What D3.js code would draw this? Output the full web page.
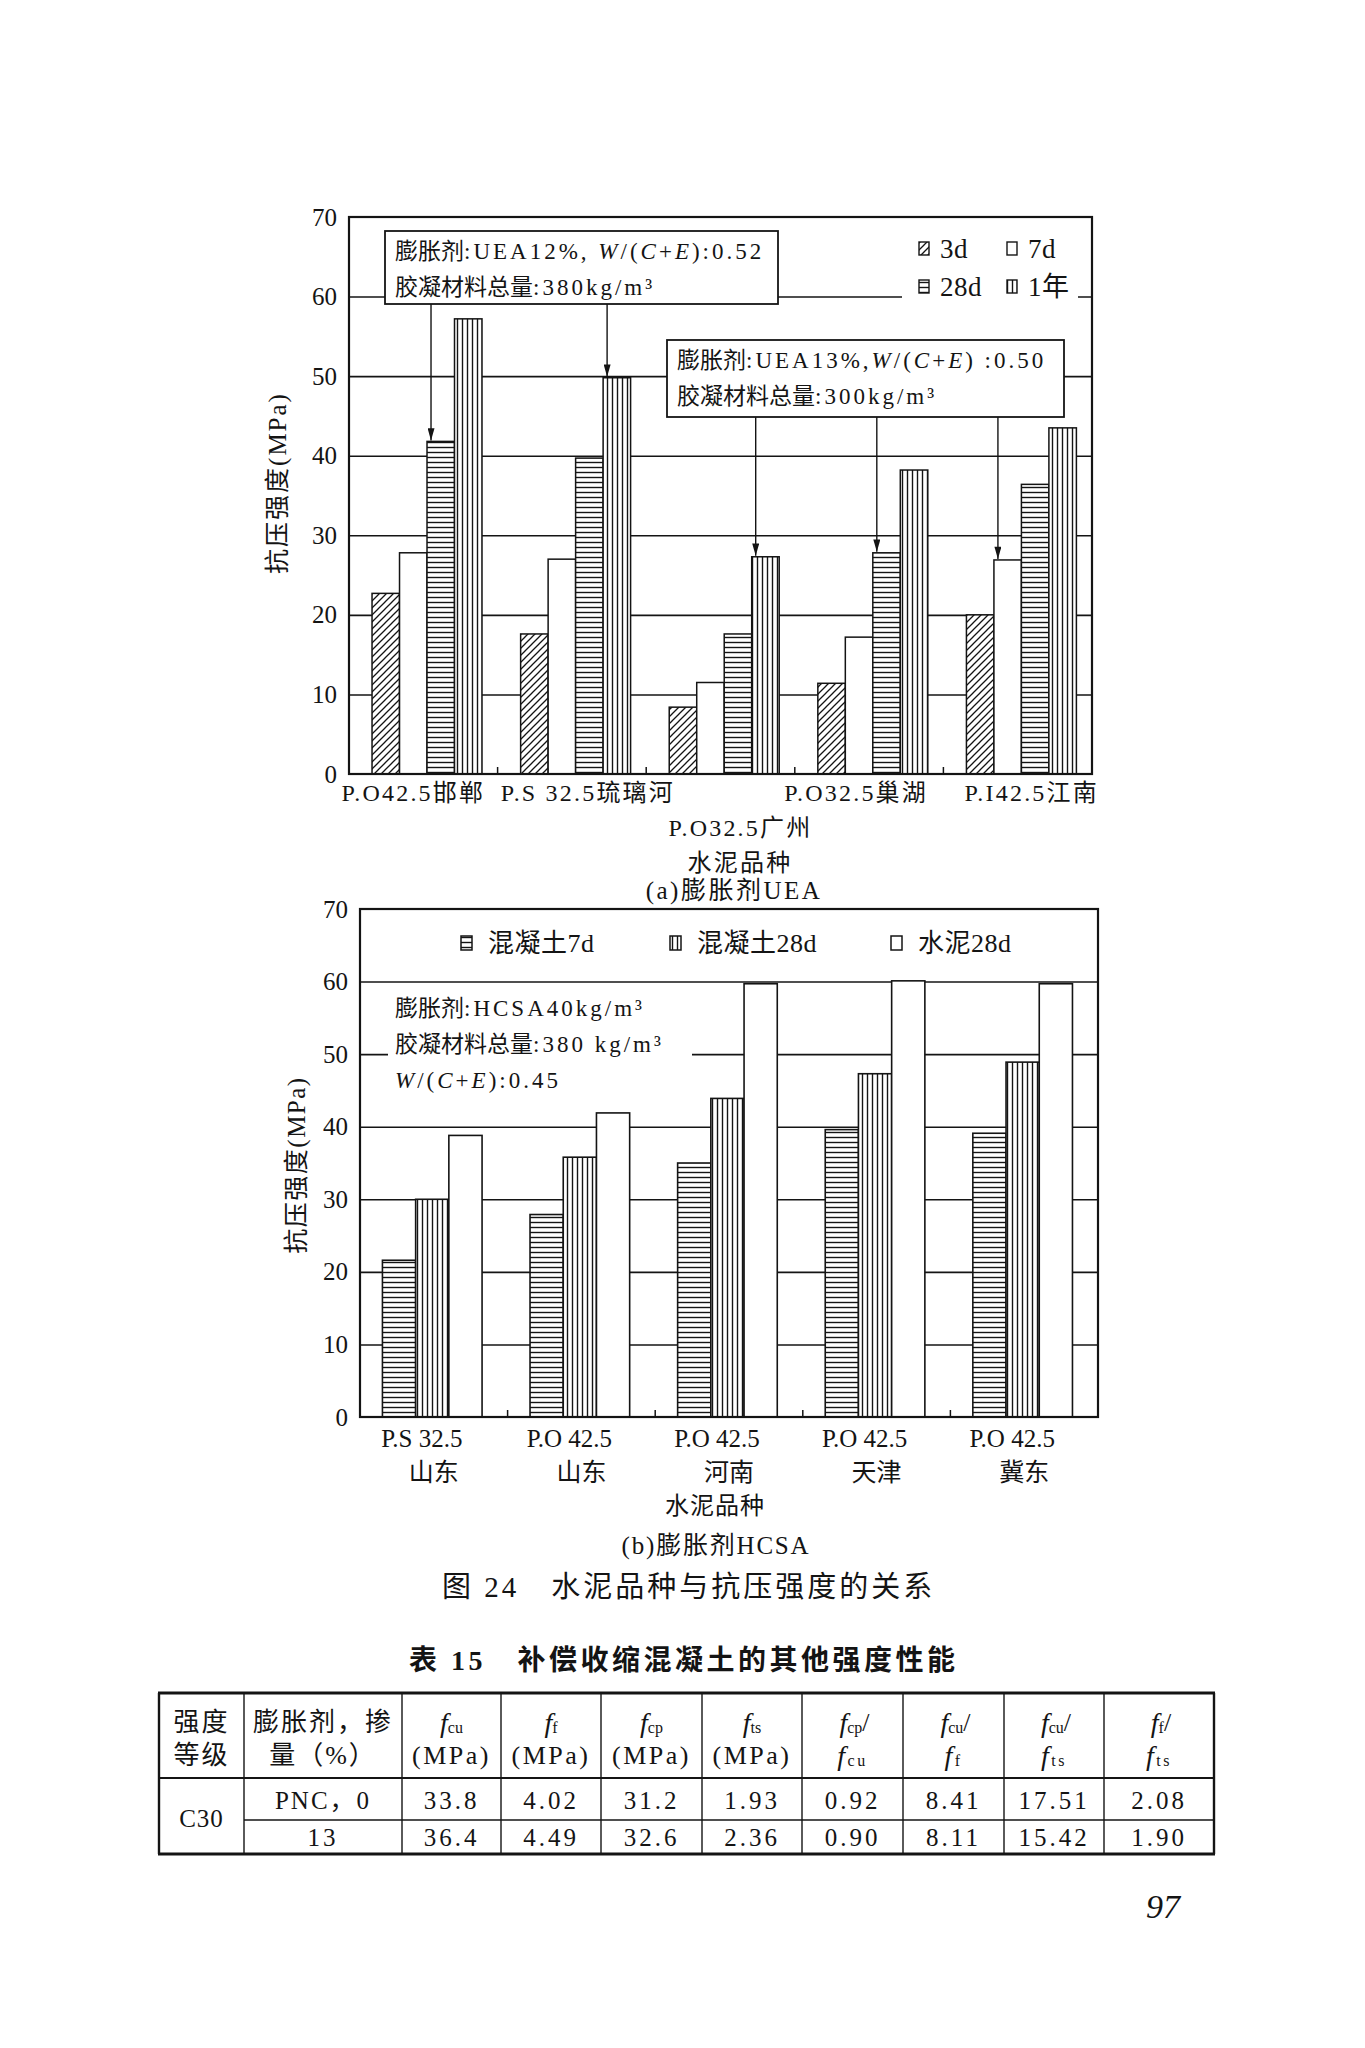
<!DOCTYPE html>
<html><head><meta charset="utf-8">
<script src="https://cdn.jsdelivr.net/npm/d3@7"></script>
<style>body{margin:0;background:#fff}svg{display:block}</style>
</head><body><svg id="c" width="1365" height="2048"></svg>
<script>
// ---------- DATA: chart (a) ----------
const categoriesA = ["P.O42.5邯郸","P.S 32.5琉璃河","P.O32.5广州","P.O32.5巢湖","P.I42.5江南"];
const labelRowA = [0,0,1,0,0];
const seriesA = ["3d","7d","28d","1年"];
const values3d  = [22.7,17.6,8.4,11.4,20.0];
const values7d  = [27.8,27.0,11.5,17.2,26.9];
const values28d = [41.8,39.7,17.6,27.8,36.4];
const values1y  = [57.2,49.8,27.3,38.2,43.5];
const yTicks = [0,10,20,30,40,50,60,70];
const noteA1 = ["膨胀剂:UEA12%, _W_/(_C_+_E_):0.52","胶凝材料总量:380kg/m³"];
const noteA2 = ["膨胀剂:UEA13%,_W_/(_C_+_E_) :0.50","胶凝材料总量:300kg/m³"];
const arrowsA1 = [[0,"28d"],[1,"1年"]];
const arrowsA2 = [[2,"1年"],[3,"28d"],[4,"7d"]];
// ---------- DATA: chart (b) ----------
const categoriesB1 = ["P.S 32.5","P.O 42.5","P.O 42.5","P.O 42.5","P.O 42.5"];
const categoriesB2 = ["山东","山东","河南","天津","冀东"];
const seriesB = ["混凝土7d","混凝土28d","水泥28d"];
const concrete7d  = [21.6,27.9,35.0,39.6,39.1];
const concrete28d = [30.0,35.8,43.9,47.3,48.9];
const cement28d   = [38.8,41.9,59.7,60.1,59.7];
const noteB = ["膨胀剂:HCSA40kg/m³","胶凝材料总量:380 kg/m³","_W_/(_C_+_E_):0.45"];
// ---------- DATA: table ----------
const tableHead1 = ["强度","膨胀剂，掺","f{cu}","f{f}","f{cp}","f{ts}","f{cp}/","f{cu}/","f{cu}/","f{f}/"];
const tableHead2 = ["等级","量（%）","(MPa)","(MPa)","(MPa)","(MPa)","f{cu}","f{f}","f{ts}","f{ts}"];
const tableGrade = "C30";
const tableRow1 = ["PNC，0","33.8","4.02","31.2","1.93","0.92","8.41","17.51","2.08"];
const tableRow2 = ["13","36.4","4.49","32.6","2.36","0.90","8.11","15.42","1.90"];

const seriesValuesA = {"3d":values3d,"7d":values7d,"28d":values28d,"1年":values1y};
const seriesValuesB = {"混凝土7d":concrete7d,"混凝土28d":concrete28d,"水泥28d":cement28d};

// ---------- SETUP ----------
const INK = "#141414";
const FONT = "'Liberation Serif','Noto Sans CJK SC',serif";
const svg = d3.select("#c").style("font-family",FONT);
svg.append("rect").attr("width",1365).attr("height",2048).attr("fill","#fff");
const defs = svg.append("defs");
function pat(id,w,h,d,sw){
  const p = defs.append("pattern").attr("id",id).attr("patternUnits","userSpaceOnUse").attr("width",w).attr("height",h);
  p.append("rect").attr("width",w).attr("height",h).attr("fill","#fff");
  p.append("path").attr("d",d).attr("stroke",INK).attr("stroke-width",sw).attr("fill","none");
}
pat("diag",7,7,"M-1,8 L8,-1 M-1,1 L1,-1 M6,8 L8,6",1.3);
pat("horiz",5,5,"M0,2.5 H5",1.4);
pat("vert",5,5,"M2.5,0 V5",1.4);
defs.append("marker").attr("id","ah").attr("viewBox","0 0 14 8").attr("refX",14).attr("refY",4)
  .attr("markerWidth",14).attr("markerHeight",7).attr("markerUnits","userSpaceOnUse").attr("orient","auto")
  .append("path").attr("d","M0,0 L14,4 L0,8 z").attr("fill",INK);

const CJK_RE = /([\u3000-\u9fff\uff00-\uffef]+)/;
// rich text: _x_ = italic; CJK and Latin runs get their own letter-spacing
function rich(sel,str,latLs=0,cjkLs=0){
  str.split("_").forEach((s,i)=>{
    if(!s) return;
    s.split(CJK_RE).forEach(r=>{
      if(!r) return;
      const isC = CJK_RE.test(r);
      sel.append("tspan").text(r).attr("font-style", i%2 ? "italic" : null)
        .attr("letter-spacing", isC ? cjkLs : latLs);
    });
  });
  return sel;
}
function txt(g,x,y,size,opts={}){
  return g.append("text").attr("x",x).attr("y",y).attr("font-size",size).attr("fill",INK)
    .attr("dominant-baseline","central").attr("text-anchor",opts.anchor||"middle")
    .attr("letter-spacing",opts.ls||0).attr("font-weight",opts.weight||null);
}
function yAxisLabels(g,y,x0,size){
  g.append("g").attr("transform",`translate(${x0},0)`)
    .call(d3.axisLeft(y).tickValues(yTicks).tickSize(0).tickPadding(12))
    .call(s=>s.select(".domain").remove())
    .selectAll("text").attr("font-size",size).attr("fill",INK).attr("font-family",FONT);
}
function grid(g,y,L,R){
  g.append("g").attr("transform",`translate(${L},0)`)
    .call(d3.axisLeft(y).tickValues(yTicks.filter(v=>v>0&&v<70)).tickSize(-(R-L)).tickFormat(""))
    .call(s=>s.select(".domain").remove())
    .selectAll("line").attr("stroke",INK).attr("stroke-width",1.6);
}

// ---------- CHART (a) ----------
const A = {l:349,r:1092,t:217,b:774};
const labelShiftA = [-10,16,20,-13,14];   // layout: horizontal nudges of the tick labels
const xA = d3.scaleBand().domain(d3.range(categoriesA.length)).range([A.l,A.r]);
const xA1 = d3.scaleBand().domain(seriesA).range([xA.bandwidth()*0.155, xA.bandwidth()*0.895]);
const yA = d3.scaleLinear().domain([0,70]).range([A.b,A.t]);
const fillA = {"3d":"url(#diag)","7d":"#fff","28d":"url(#horiz)","1年":"url(#vert)"};
const gA = svg.append("g");
grid(gA,yA,A.l,A.r);
gA.append("rect").attr("x",902).attr("y",227).attr("width",176).attr("height",75).attr("fill","#fff");
seriesA.forEach(s=>{
  gA.append("g").selectAll("rect").data(seriesValuesA[s]).join("rect")
    .attr("x",(d,i)=>xA(i)+xA1(s)).attr("width",xA1.bandwidth())
    .attr("y",d=>yA(d)).attr("height",d=>yA(0)-yA(d))
    .attr("fill",fillA[s]).attr("stroke",INK).attr("stroke-width",1.5);
});
gA.append("rect").attr("x",A.l).attr("y",A.t).attr("width",A.r-A.l).attr("height",A.b-A.t)
  .attr("fill","none").attr("stroke",INK).attr("stroke-width",2.2);
gA.selectAll(".bt").data(d3.range(1,categoriesA.length)).join("line")
  .attr("x1",i=>xA(i)).attr("x2",i=>xA(i)).attr("y1",A.b).attr("y2",A.b-7).attr("stroke",INK).attr("stroke-width",1.5);
yAxisLabels(gA,yA,A.l,25);
function noteBox(g,lines,bx,by,bw,bh,arrows){
  g.append("rect").attr("x",bx).attr("y",by).attr("width",bw).attr("height",bh)
    .attr("fill","#fff").attr("stroke",INK).attr("stroke-width",1.8);
  lines.forEach((ln,i)=>rich(txt(g,bx+10,by+20+i*36,23,{anchor:"start"}),ln,3,0));
  arrows.forEach(([ci,s])=>{
    const x = xA(ci)+xA1(s)+4;
    g.append("line").attr("x1",x).attr("x2",x).attr("y1",by+bh).attr("y2",yA(seriesValuesA[s][ci])-1)
      .attr("stroke",INK).attr("stroke-width",1.4).attr("marker-end","url(#ah)");
  });
}
noteBox(gA,noteA1,385,231,393,73,arrowsA1);
noteBox(gA,noteA2,667,340,397,77,arrowsA2);
const legA = gA.append("g");
seriesA.forEach((s,i)=>{
  const cx = 919 + (i%2)*88, cy = 249 + Math.floor(i/2)*38;
  legA.append("rect").attr("x",cx).attr("y",cy-7).attr("width",10).attr("height",13)
    .attr("fill",fillA[s]).attr("stroke",INK).attr("stroke-width",1.4);
  txt(legA,cx+21,cy,27,{anchor:"start",ls:0.5}).text(s);
});
categoriesA.forEach((c,i)=>{
  txt(gA,xA(i)+xA.bandwidth()/2+labelShiftA[i],793+labelRowA[i]*35,24,{ls:2.2}).text(c);
});
txt(gA,740,863,24,{ls:2.2}).text("水泥品种");
txt(gA,734,890,25,{ls:2.5}).text("(a)膨胀剂UEA");
txt(gA,0,0,25,{ls:2}).attr("transform","translate(277,483) rotate(-90)").text("抗压强度(MPa)");

// ---------- CHART (b) ----------
const B = {l:360,r:1098,t:909,b:1417};
const xB = d3.scaleBand().domain(d3.range(categoriesB1.length)).range([B.l,B.r]);
const xB1 = d3.scaleBand().domain(seriesB).range([xB.bandwidth()*0.152, xB.bandwidth()*0.827]);
const yB = d3.scaleLinear().domain([0,70]).range([B.b,B.t]);
const fillB = {"混凝土7d":"url(#horiz)","混凝土28d":"url(#vert)","水泥28d":"#fff"};
const gB = svg.append("g");
grid(gB,yB,B.l,B.r);
gB.append("rect").attr("x",388).attr("y",990).attr("width",304).attr("height",105).attr("fill","#fff");
seriesB.forEach(s=>{
  gB.append("g").selectAll("rect").data(seriesValuesB[s]).join("rect")
    .attr("x",(d,i)=>xB(i)+xB1(s)).attr("width",xB1.bandwidth())
    .attr("y",d=>yB(d)).attr("height",d=>yB(0)-yB(d))
    .attr("fill",fillB[s]).attr("stroke",INK).attr("stroke-width",1.6);
});
gB.append("rect").attr("x",B.l).attr("y",B.t).attr("width",B.r-B.l).attr("height",B.b-B.t)
  .attr("fill","none").attr("stroke",INK).attr("stroke-width",2.2);
gB.selectAll(".bt").data(d3.range(1,categoriesB1.length)).join("line")
  .attr("x1",i=>xB(i)).attr("x2",i=>xB(i)).attr("y1",B.b).attr("y2",B.b-7).attr("stroke",INK).attr("stroke-width",1.5);
yAxisLabels(gB,yB,B.l,25);
noteB.forEach((ln,i)=>rich(txt(gB,395,1008+i*36,23,{anchor:"start"}),ln,3,0));
const legBx = [461,670,891];
seriesB.forEach((s,i)=>{
  gB.append("rect").attr("x",legBx[i]).attr("y",936).attr("width",11).attr("height",14)
    .attr("fill",fillB[s]).attr("stroke",INK).attr("stroke-width",1.5);
  txt(gB,legBx[i]+27,943,26,{anchor:"start",ls:0.5}).text(s);
});
categoriesB1.forEach((c,i)=>{
  const cx = xB(i)+xB.bandwidth()/2;
  txt(gB,cx-12,1438,25).text(c);
  txt(gB,cx,1472,25).text(categoriesB2[i]);
});
txt(gB,715,1506,24,{ls:1}).text("水泥品种");
txt(gB,716,1545,25,{ls:1.8}).text("(b)膨胀剂HCSA");
txt(gB,0,0,25,{ls:1.5}).attr("transform","translate(296,1165) rotate(-90)").text("抗压强度(MPa)");

// ---------- captions ----------
txt(svg,442,1587,29,{anchor:"start",ls:3}).text("图 24　水泥品种与抗压强度的关系");
txt(svg,409,1660,28,{anchor:"start",weight:"bold",ls:3.5}).text("表 15　补偿收缩混凝土的其他强度性能");

// ---------- TABLE ----------
const T = {cols:[159,244,402,501,601,702,802,903,1004,1104,1214], top:1693, head:1778, mid:1820, bot:1854};
const gT = svg.append("g");
function fmt(sel,str){
  let shifted=false;
  str.split(/(f\{\w+\})/).forEach(tok=>{
    if(!tok) return;
    const m = tok.match(/^f\{(\w+)\}$/);
    if(m){
      sel.append("tspan").text("f").attr("font-style","italic").attr("font-size",28).attr("dy",shifted?-5:null);
      sel.append("tspan").text(m[1]).attr("font-size",16).attr("dy",5);
      shifted=true;
    } else {
      sel.append("tspan").text(tok).attr("dy",shifted?-5:null);
      shifted=false;
    }
  });
}
const colC = i=>(T.cols[i]+T.cols[i+1])/2;
tableHead1.forEach((h,i)=>fmt(txt(gT,colC(i)+(i>=6?2:0),1722,26,{ls:i<2?2:0}),h));
tableHead2.forEach((h,i)=>fmt(txt(gT,colC(i),1755,26,{ls:i<2?2:2.5}),h));
txt(gT,colC(0),1818,25,{ls:1}).text(tableGrade);
tableRow1.forEach((v,i)=>txt(gT,colC(i+1),1800,25,{ls:i===0?2:3}).text(v));
tableRow2.forEach((v,i)=>txt(gT,colC(i+1),1837,25,{ls:3}).text(v));
const L = (x1,y1,x2,y2,w)=>gT.append("line").attr("x1",x1).attr("y1",y1).attr("x2",x2).attr("y2",y2).attr("stroke",INK).attr("stroke-width",w);
T.cols.slice(1,-1).forEach(x=>L(x,T.top,x,T.bot,1.4));
L(T.cols[0],T.head,T.cols[10],T.head,1.8);
L(T.cols[1],T.mid,T.cols[10],T.mid,1.4);
L(T.cols[0]-1,T.top,T.cols[10]+1,T.top,3);
L(T.cols[0]-1,T.bot,T.cols[10]+1,T.bot,3);
L(T.cols[0],T.top,T.cols[0],T.bot,2.4);
L(T.cols[10],T.top,T.cols[10],T.bot,2.4);

// page number
txt(svg,1163,1906,34,{}).attr("font-style","italic").text("97");
</script></body></html>
